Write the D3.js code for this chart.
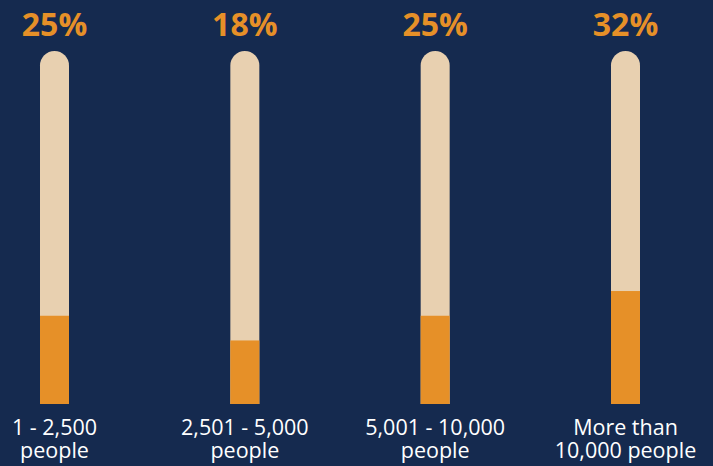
<!DOCTYPE html>
<html>
<head>
<meta charset="utf-8">
<script src="https://cdn.jsdelivr.net/npm/d3@7"></script>
<style>
  html, body { margin: 0; padding: 0; background: #152a4f; }
  svg { display: block; }
</style>
</head>
<body>
<svg id="chart" width="713" height="466"></svg>
<script>
var categories = ["1 - 2,500|people", "2,501 - 5,000|people", "5,001 - 10,000|people", "More than|10,000 people"];
var values = [25, 18, 25, 32];
var valueLabels = ["25%", "18%", "25%", "32%"];

var svg = d3.select("#chart");
var width = 713, height = 466;

svg.append("rect").attr("width", width).attr("height", height).attr("fill", "#152a4f");

var x = d3.scalePoint()
    .domain(categories)
    .range([54.5, 625.5]);
var y = d3.scaleLinear().domain([0, 100]).range([404, 51]);

var barW = 29, r = barW / 2;
function cx(d) { return x(d); }

function tube(x0, y0, y1) {
  // rounded top, square bottom
  return "M" + x0 + "," + y1 +
    "V" + (y0 + r) +
    "A" + r + "," + r + " 0 0 1 " + (x0 + barW) + "," + (y0 + r) +
    "V" + y1 + "Z";
}

var g = svg.selectAll(".bar").data(categories).enter().append("g").attr("class", "bar");

g.append("path")
  .attr("fill", "#e8d0b0")
  .attr("d", function (d) { return tube(cx(d) - r, y(100), y(0)); });

g.append("rect")
  .attr("fill", "#e69028")
  .attr("x", function (d) { return cx(d) - r; })
  .attr("width", barW)
  .attr("y", function (d, i) { return y(values[i]); })
  .attr("height", function (d, i) { return y(0) - y(values[i]); });

g.append("text")
  .attr("x", cx)
  .attr("y", 36)
  .attr("text-anchor", "middle")
  .attr("font-family", "'Open Sans', sans-serif")
  .attr("font-weight", "bold")
  .attr("font-size", 32)
  .attr("fill", "#e69028")
  .text(function (d, i) { return valueLabels[i]; });

var lab = g.append("text")
  .attr("text-anchor", "middle")
  .attr("font-family", "'Open Sans', sans-serif")
  .attr("font-size", 21.5)
  .attr("fill", "#ffffff");
lab.selectAll("tspan")
  .data(function (d) { return d.split("|").map(function (t) { return { t: t, c: cx(d) }; }); })
  .enter().append("tspan")
  .attr("x", function (d) { return d.c; })
  .attr("y", function (d, i) { return 435 + i * 23; })
  .text(function (d) { return d.t; });
</script>
</body>
</html>
